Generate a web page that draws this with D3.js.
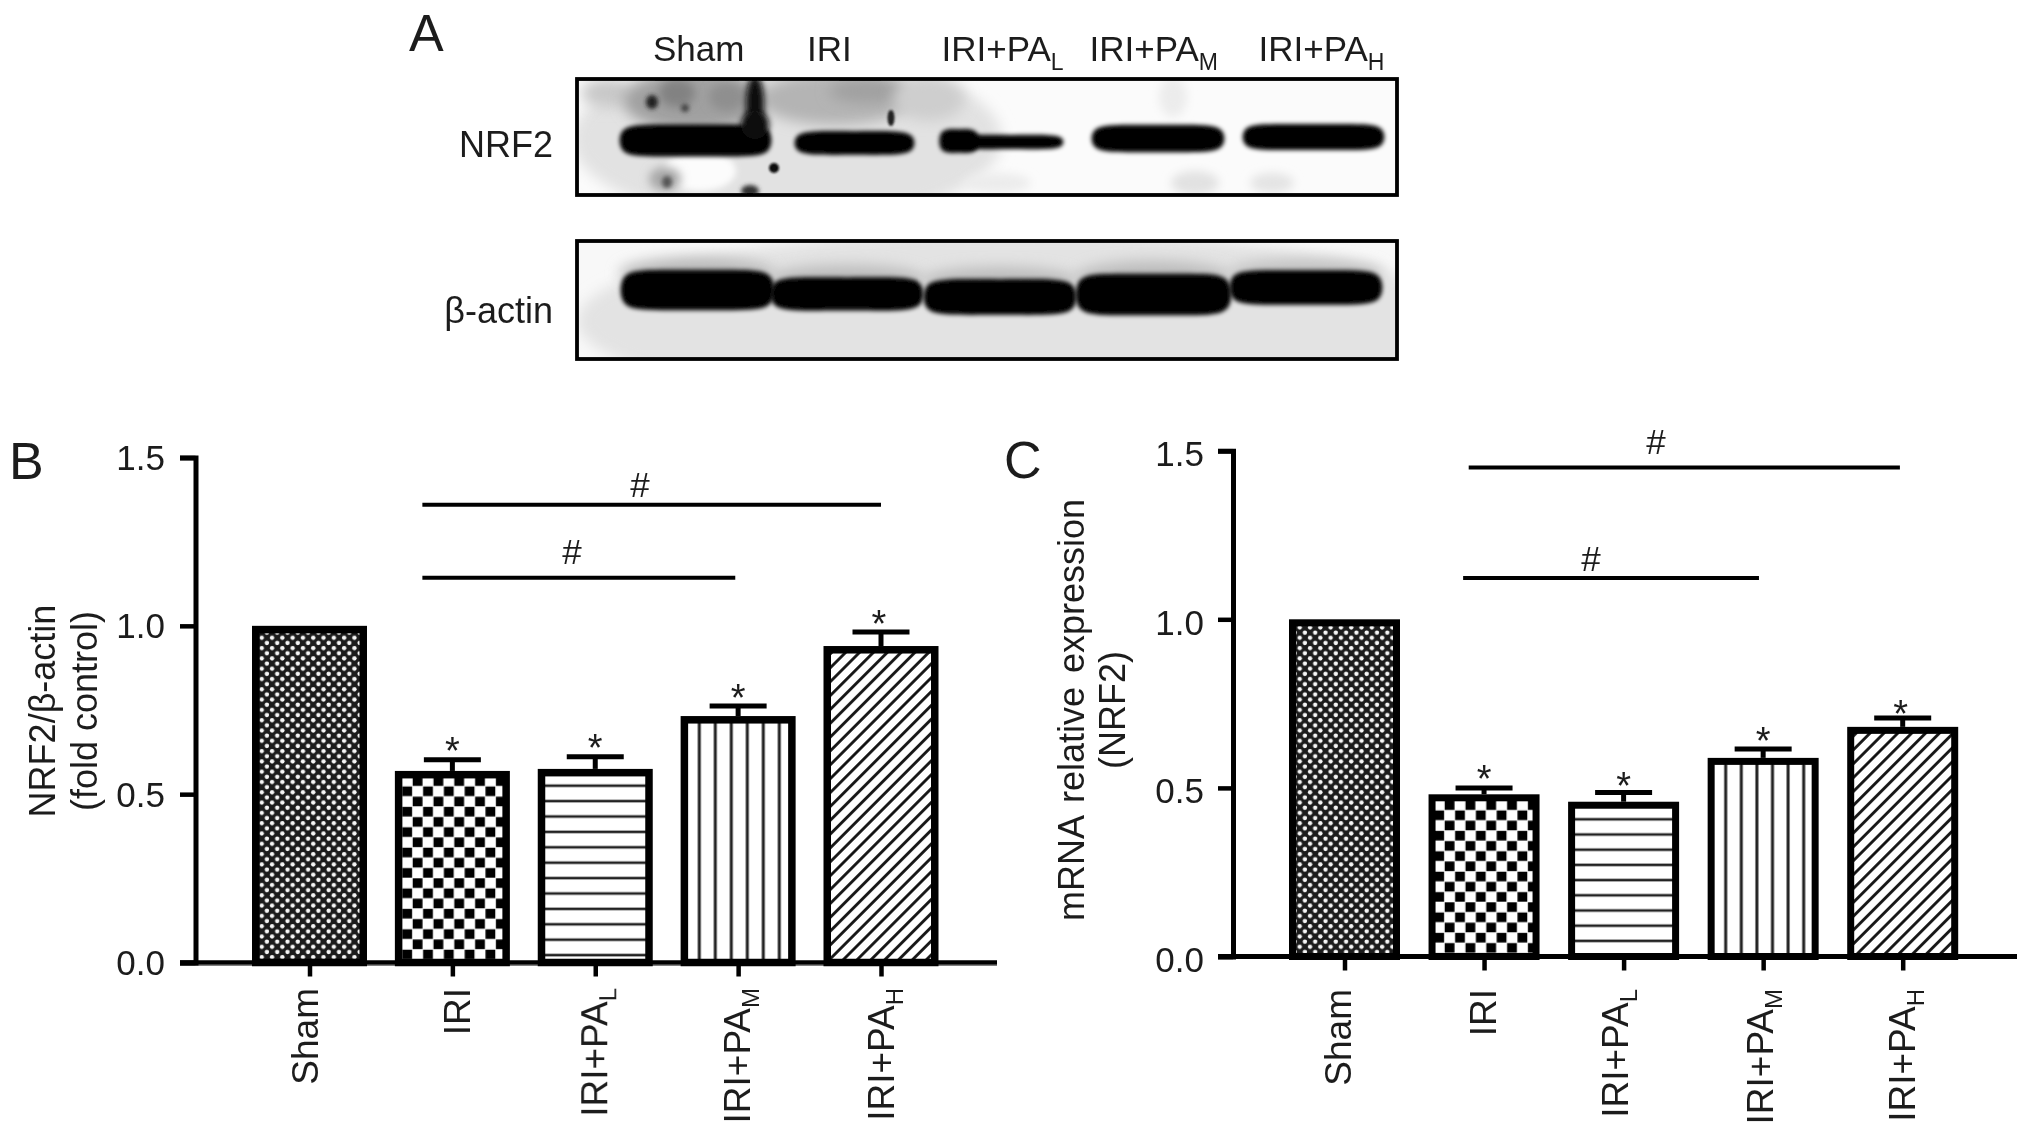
<!DOCTYPE html>
<html><head><meta charset="utf-8">
<script src="https://cdn.jsdelivr.net/npm/d3@7/dist/d3.min.js"></script>
<style>html,body{margin:0;padding:0;background:#fff;overflow:hidden}svg{display:block}
text{font-family:"Liberation Sans",Arial,sans-serif;fill:#1c1c1c}</style></head>
<body><svg id="chart" width="2031" height="1129"></svg>
<script>
// ---------- data ----------
const categories = ["Sham","IRI","IRI+PA","IRI+PA","IRI+PA"];
const subscripts = ["","","L","M","H"];
const yTicks = [0,0.5,1.0,1.5];

const nrf2Protein = [1.0,0.569,0.575,0.732,0.94];
const nrf2ProteinErr = [0,0.033,0.036,0.03,0.042];
const nrf2ProteinStars = [null,0.652,0.661,0.81,1.03];

const nrf2Mrna = [1.0,0.481,0.459,0.589,0.681];
const nrf2MrnaErr = [0,0.019,0.027,0.026,0.026];
const nrf2MrnaStars = [null,0.55,0.53,0.664,0.743];

const bracketsB = [{x0:0.79,x1:4.0,v:1.36},{x0:0.79,x1:2.98,v:1.143}];
const bracketsC = [{x0:0.89,x1:3.98,v:1.45},{x0:0.85,x1:2.97,v:1.1225}];

// blot bands, in pixels of the blot frame: [x0,x1,y0,y1]
const nrf2Bands = [[46,191,48,75],[221,334,54,74],[366,398,52,72],[385,483,57,69],[518,644,48,71],[669,804,47,69]];
const actinBands = [[47,194,32,66],[197,343,39,67],[350,496,41,71],[502,651,36,71],[656,802,32,61]];
// smudges: [cx,cy,rx,ry,grey,blur]
const nrf2Smudges = [
 [210,60,215,85,"#e2e2e2",7],[30,14,26,14,"#c8c8c8",7],[118,22,72,30,"#a0a0a0",7],[258,20,76,26,"#b4b4b4",7],
 [290,12,38,12,"#a0a0a0",7],[352,20,36,22,"#cecece",7],[100,14,18,14,"#828282",5],[150,18,18,14,"#8f8f8f",5],
 [123,92,36,20,"#fcfcfc",3],[88,100,16,12,"#a8a8a8",5],[596,18,14,20,"#ececec",5],
 [618,104,24,12,"#e2e2e2",5],[695,104,22,10,"#e4e4e4",5],[420,104,34,10,"#ececec",5]];
const nrf2Specks = [
 [178,24,9,28,"#0a0a0a",3],[178,46,14,14,"#0a0a0a",3],[75,23,6,7,"#222",2],[108,29,4,4,"#444",2],[314,39,3.5,8,"#222",1.2],
 [197,89,5,5,"#111",1.2],[90,103,5,6,"#555",2],[173,112,9,6,"#333",2]];
const actinSmudges = [
 [440,80,440,90,"#e3e3e3",7],[120,32,78,16,"#bcbcbc",7],[270,38,78,14,"#bcbcbc",7],[423,40,78,14,"#bcbcbc",7],[576,36,78,16,"#bcbcbc",7],[729,32,78,14,"#c2c2c2",7]];

// ---------- helpers ----------
const svg = d3.select("#chart");
const defs = svg.append("defs");
const root = svg.append("g").attr("filter","url(#soft)");
function blur(id,s){defs.append("filter").attr("id",id).attr("filterUnits","userSpaceOnUse")
  .attr("x",0).attr("y",0).attr("width",2031).attr("height",1129)
  .append("feGaussianBlur").attr("stdDeviation",s);}
blur("soft",0.6);
[1,1.2,2,3,5,7].forEach(s=>blur("b"+String(s).replace(".","_"),s));
const F = 35, FX = 37, FT = 36;

function patterns(tag,p){
  const pat=(id,w,h,t)=>defs.append("pattern").attr("id",id+tag).attr("patternUnits","userSpaceOnUse")
    .attr("width",w).attr("height",h).attr("patternTransform",t);
  let a=pat("dots",10.3,10.3,`translate(${p.dots})`);
  a.append("rect").attr("width",10.3).attr("height",10.3).attr("fill","#1a1a1a");
  [[2.6,2.6],[7.75,7.75]].forEach(c=>a.append("circle").attr("cx",c[0]).attr("cy",c[1]).attr("r",2.2).attr("fill","#f6f6f6"));
  a=pat("check",20.8,20.4,`translate(${p.check})`);
  a.append("rect").attr("width",20.8).attr("height",20.4).attr("fill","#fff");
  [[10.4,0],[0,10.2]].forEach(c=>a.append("rect").attr("x",c[0]+0.3).attr("y",c[1]+0.3).attr("width",9.8).attr("height",9.6).attr("fill","#000"));
  a=pat("hor",20,p.horP,`translate(0,${p.hor})`);
  a.append("rect").attr("width",20).attr("height",p.horP).attr("fill","#fff");
  a.append("rect").attr("y",-1.3).attr("width",20).attr("height",2.6).attr("fill","#222");
  a.append("rect").attr("y",p.horP-1.3).attr("width",20).attr("height",2.6).attr("fill","#222");
  a=pat("ver",p.verP,20,`translate(${p.ver},0)`);
  a.append("rect").attr("width",p.verP).attr("height",20).attr("fill","#fff");
  a.append("rect").attr("x",-1.5).attr("width",3).attr("height",20).attr("fill","#222");
  a.append("rect").attr("x",p.verP-1.5).attr("width",3).attr("height",20).attr("fill","#222");
  a=pat("diag",9.8,9.8,`translate(${p.diag}) rotate(-45)`);
  a.append("rect").attr("width",9.8).attr("height",9.8).attr("fill","#fff");
  a.append("rect").attr("y",3).attr("width",9.8).attr("height",2.8).attr("fill","#111");
}
const fills = ["dots","check","hor","ver","diag"];

function panel(o){
  patterns(o.tag,o.phase);
  const g=root.append("g");
  const y=d3.scaleLinear().domain([0,1.5]).range([o.y0,o.y15]);
  const x=d3.scalePoint().domain(d3.range(categories.length)).range([o.x0,o.x4]);
  const pos=d3.scaleLinear().domain([0,4]).range([o.x0,o.x4]);
  g.selectAll("rect.bar").data(o.values).join("rect").attr("class","bar")
    .attr("x",(d,i)=>x(i)-o.bw/2+o.sw/2).attr("width",o.bw-o.sw)
    .attr("y",d=>y(d)+o.sw/2).attr("height",d=>o.y0-y(d)-o.sw/2)
    .attr("fill",(d,i)=>`url(#${fills[i]}${o.tag})`).attr("stroke","#000").attr("stroke-width",o.sw);
  const eb=g.selectAll("g.err").data(o.values.map((v,i)=>({v,e:o.errs[i],i})).filter(d=>d.e>0)).join("g").attr("class","err");
  eb.append("line").attr("x1",d=>x(d.i)).attr("x2",d=>x(d.i)).attr("y1",d=>y(d.v)).attr("y2",d=>y(d.v+d.e))
    .attr("stroke","#000").attr("stroke-width",5);
  eb.append("line").attr("x1",d=>x(d.i)-28.5).attr("x2",d=>x(d.i)+28.5).attr("y1",d=>y(d.v+d.e)).attr("y2",d=>y(d.v+d.e))
    .attr("stroke","#000").attr("stroke-width",5);
  g.selectAll("text.star").data(o.stars.map((s,i)=>({s,i})).filter(d=>d.s!==null)).join("text").attr("class","star")
    .attr("x",d=>x(d.i)-(d.i===4?2:0)).attr("y",d=>y(d.s)+21).attr("text-anchor","middle").attr("font-size",38).text("*");
  const ya=g.append("g").attr("transform",`translate(${o.ax},0)`)
    .call(d3.axisLeft(y).tickValues(yTicks).tickSize(o.ax-o.axL).tickPadding(0).tickFormat(d3.format(".1f")));
  const xa=g.append("g").attr("transform",`translate(0,${o.y0})`)
    .call(d3.axisBottom(x).tickSize(14).tickFormat(i=>categories[i]));
  ya.select(".domain").attr("stroke","#000").attr("stroke-width",5);
  ya.selectAll(".tick line").attr("stroke","#000").attr("stroke-width",4.5);
  ya.selectAll(".tick text").attr("x",-(o.ax-o.labR)).attr("dy",o.ydy).attr("font-size",F).attr("text-anchor","end");
  ya.attr("font-family",null);
  xa.attr("font-family",null);
  xa.select(".domain").attr("d",`M${o.axL},0H${o.axR}`).attr("stroke","#000").attr("stroke-width",5);
  xa.selectAll(".tick line").attr("stroke","#000").attr("stroke-width",4.5);
  xa.selectAll(".tick text").each(function(i){
    const t=d3.select(this).text(null).attr("y",null).attr("dy",null).attr("font-size",FX)
      .attr("text-anchor","end")
      .attr("transform",`translate(${o.lblDx[i]},${o.lblTop-o.y0}) rotate(-90)`);
    t.append("tspan").text(categories[i]);
    if(subscripts[i]) t.append("tspan").attr("font-size",24).attr("dy",9).text(subscripts[i]);
  });
  g.selectAll("line.br").data(o.brackets).join("line").attr("class","br")
    .attr("x1",d=>pos(d.x0)).attr("x2",d=>pos(d.x1)).attr("y1",d=>y(d.v)).attr("y2",d=>y(d.v))
    .attr("stroke","#000").attr("stroke-width",4);
  g.selectAll("text.hash").data(o.brackets).join("text").attr("class","hash")
    .attr("x",(d,i)=>o.hashX[i]).attr("y",(d,i)=>y(d.v)+o.hashDy[i]).attr("text-anchor","middle").attr("font-size",F).text("#");
  o.title.forEach((s,i)=>g.append("text").attr("transform",`translate(${o.titleX[i]},${o.titleY}) rotate(-90)`)
    .attr("text-anchor","middle").attr("font-size",FT).attr("word-spacing",o.ws||0).text(s));
  g.append("text").attr("x",o.letter[0]).attr("y",o.letter[1]).attr("font-size",52).text(o.tag);
}

panel({tag:"B",values:nrf2Protein,errs:nrf2ProteinErr,stars:nrf2ProteinStars,brackets:bracketsB,
  y0:962.5,y15:457.5,x0:309.5,x4:881,bw:115,sw:7.5,ax:195.5,axL:180,axR:997,labR:165,ydy:12,
  lblDx:[8,17,11.5,11,12],lblTop:988,hashX:[640,572],hashDy:[-8,-14],
  title:["NRF2/β-actin","(fold control)"],titleX:[55,97],titleY:711,letter:[9,479],
  phase:{dots:"254,630",check:"402,776",hor:785.7,horP:15.4,ver:699.3,verP:16,diag:"828,650"}});
panel({tag:"C",values:nrf2Mrna,errs:nrf2MrnaErr,stars:nrf2MrnaStars,brackets:bracketsC,
  y0:956.5,y15:450.7,x0:1344.5,x4:1902.7,bw:111,sw:7,ax:1233,axL:1218,axR:2017,labR:1204,ydy:15,
  lblDx:[5.5,11,4,9,12],lblTop:989,hashX:[1656,1591],hashDy:[-14,-7],
  title:["mRNA relative expression","(NRF2)"],titleX:[1084,1125],titleY:710,letter:[1004,478],ws:4,
  phase:{dots:"1292,630",check:"1434,800",hor:819.3,horP:15.2,ver:1725.7,verP:15.6,diag:"1850,650"}});

// ---------- panel A: blot ----------
const A=root.append("g");
A.append("text").attr("x",409).attr("y",51).attr("font-size",52).text("A");
const laneX=[653,807,941.5,1089.5,1258.5];
A.selectAll("text.lane").data(categories).join("text").attr("class","lane")
  .attr("x",(d,i)=>laneX[i]).attr("y",61).attr("font-size",F)
  .each(function(d,i){const t=d3.select(this);t.append("tspan").text(d);
    if(subscripts[i])t.append("tspan").attr("font-size",23).attr("dy",9).text(subscripts[i]);});
const lens=d3.line().curve(d3.curveBasisClosed);
function bandPath(bx,by,d){
  const [a,b,c,e]=d, w=b-a, m=(c+e)/2, o=Math.min(w*.1,12), t=e-c;
  return lens([[a-4,c+.1*t],[a+o,c-.12*t],[a+.5*w,c-.08*t],[b-o,c-.12*t],[b+4,c+.1*t],[b+4,e-.1*t],[b-o,e+.12*t],[a+.5*w,e+.08*t],[a+o,e+.12*t],[a-4,e-.1*t]]
    .map(p=>[bx(p[0]),by(p[1])]));
}
function blot(id,label,top,w,h,labelY,bands,smudges,specks,bg){
  const bx=d3.scaleLinear().domain([0,w]).range([577,577+w]);
  const by=d3.scaleLinear().domain([0,h]).range([top,top+h]);
  defs.append("clipPath").attr("id",id).append("rect").attr("x",bx(0)).attr("y",by(0)).attr("width",w).attr("height",h);
  const g=A.append("g").attr("clip-path",`url(#${id})`);
  g.append("rect").attr("x",bx(0)).attr("y",by(0)).attr("width",w).attr("height",h).attr("fill",bg);
  const ell=(arr)=>g.selectAll(null).data(arr).join("ellipse")
    .attr("cx",d=>bx(d[0])).attr("cy",d=>by(d[1])).attr("rx",d=>d[2]).attr("ry",d=>d[3])
    .attr("fill",d=>d[4]).attr("filter",d=>"url(#b"+String(d[5]).replace(".","_")+")");
  ell(smudges);
  g.selectAll(null).data(bands).join("path").attr("d",d=>bandPath(bx,by,d))
    .attr("fill","#060606").attr("filter","url(#b2)");
  ell(specks);
  A.append("rect").attr("x",bx(0)).attr("y",by(0)).attr("width",w).attr("height",h).attr("fill","none").attr("stroke","#000").attr("stroke-width",3.8);
  A.append("text").attr("x",553).attr("y",labelY).attr("text-anchor","end").attr("font-size",FT).text(label);
}
blot("clipN","NRF2",79,820,116,157,nrf2Bands,nrf2Smudges,nrf2Specks,"#fbfbfb");
blot("clipA","β-actin",241,820,118,323,actinBands,actinSmudges,[],"#f8f8f8");
</script></body></html>
